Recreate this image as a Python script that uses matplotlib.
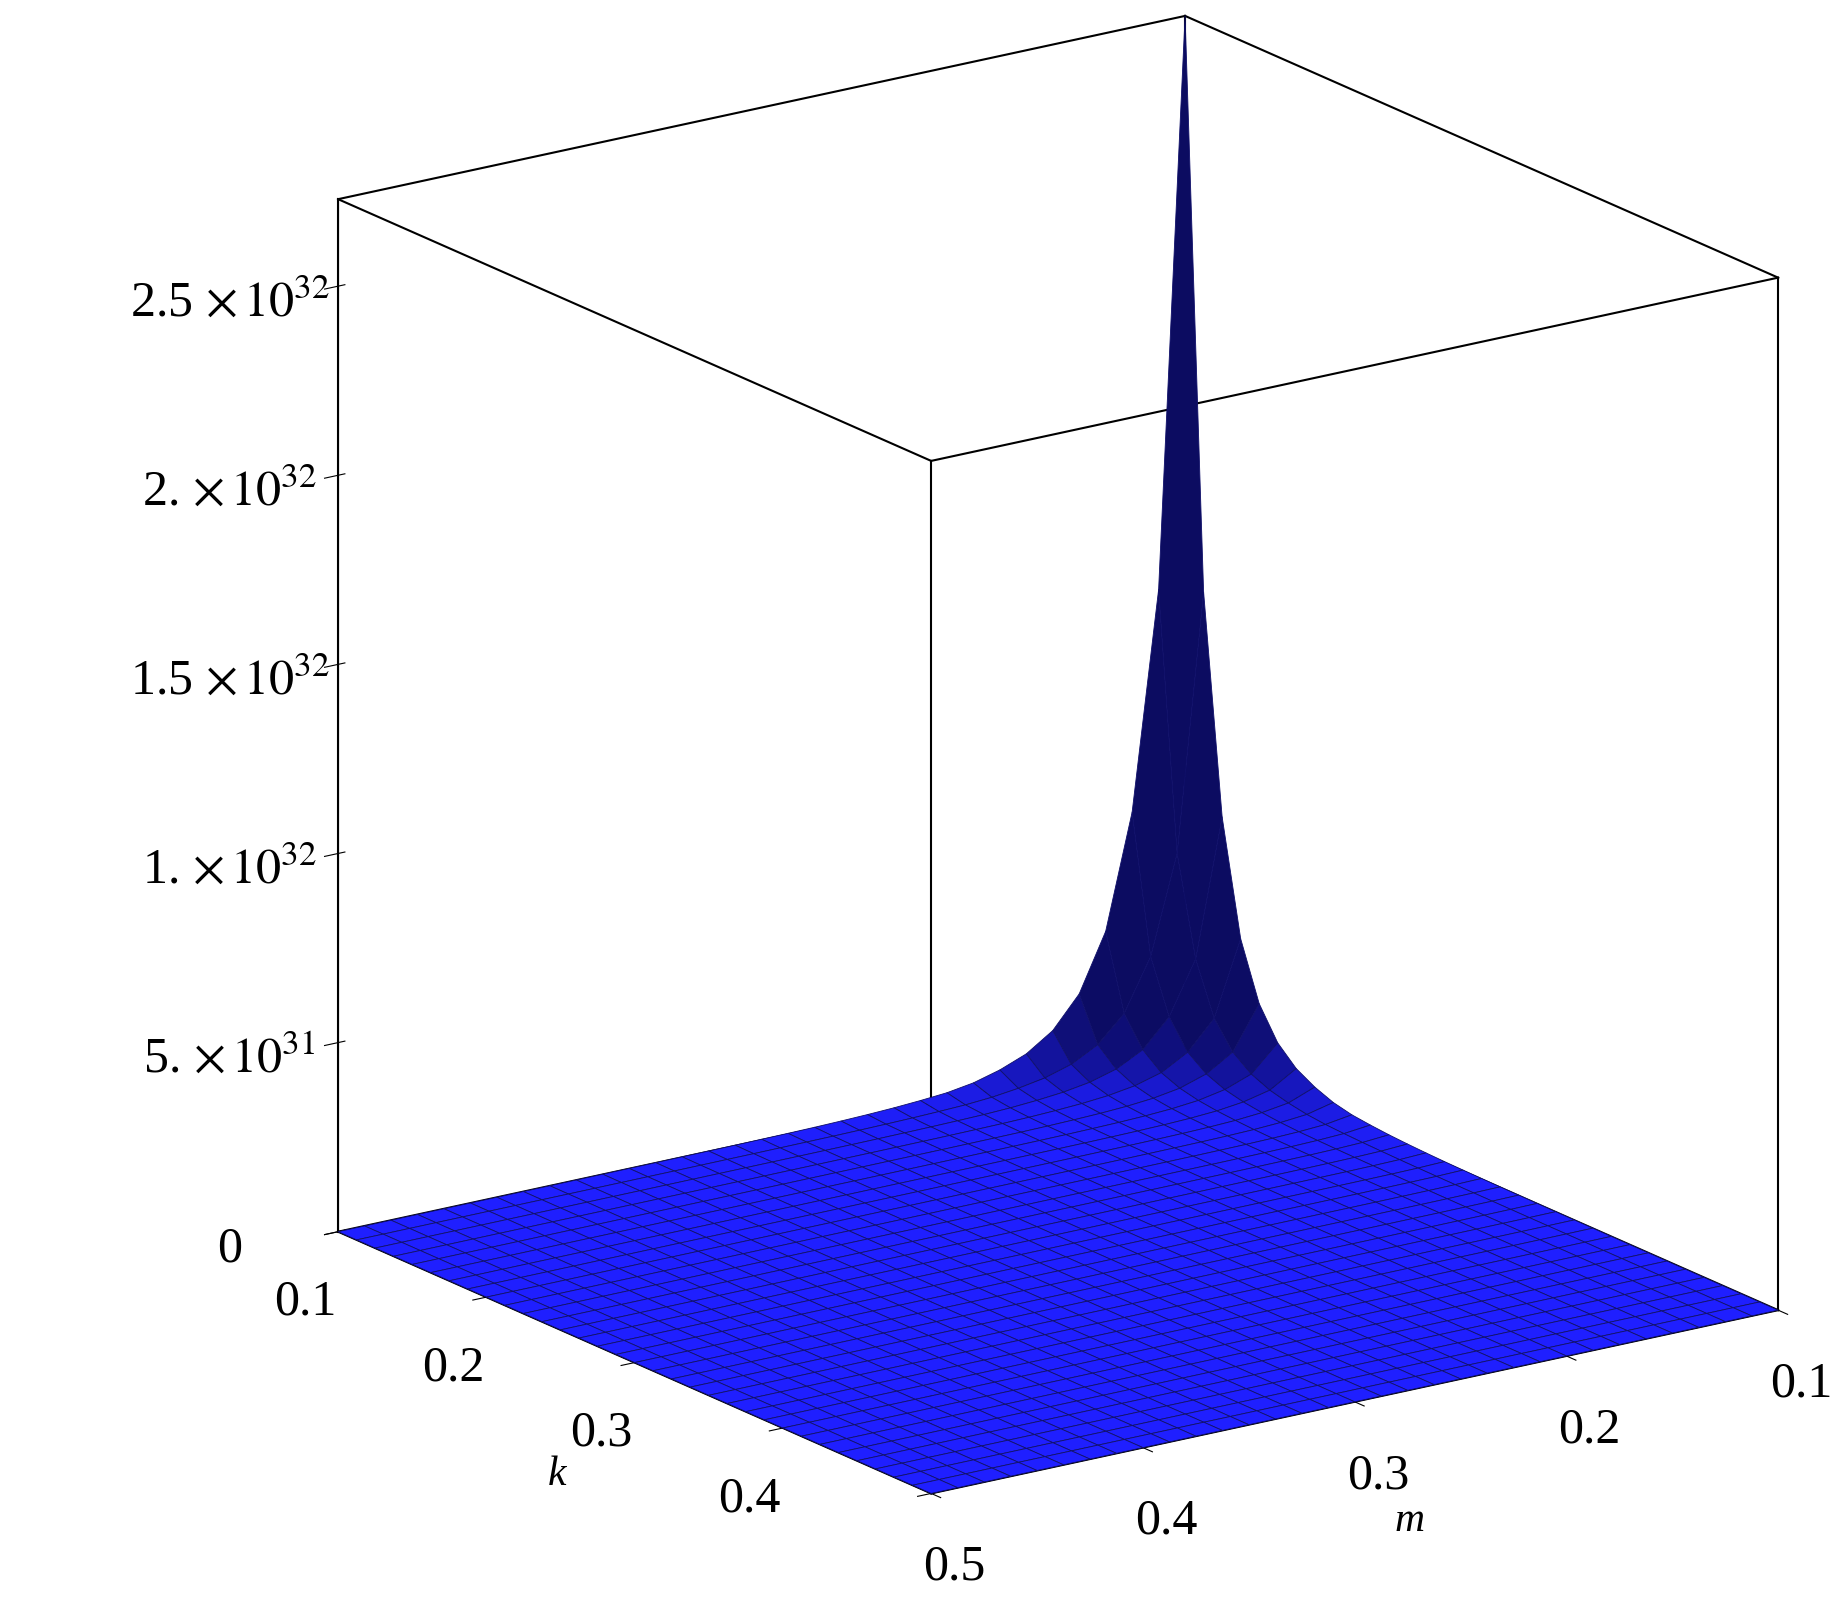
import numpy as np
import matplotlib.pyplot as plt
from matplotlib.colors import to_rgb

plt.rcParams['font.family'] = ['Liberation Serif', 'DejaVu Serif']
plt.rcParams['mathtext.fontset'] = 'stix'

# grid values along each axis (0.1 .. 0.5, 32 cells)
k_vals = np.linspace(0.1, 0.5, 33)
m_vals = np.linspace(0.1, 0.5, 33)
# relative falloff of the surface away from the (0.1, 0.1) corner
falloff = [1.0, 0.45, 0.24, 0.13, 0.075, 0.045, 0.028, 0.018, 0.011, 0.007, 0.005,
           0.0035, 0.0025, 0.0018, 0.0013, 0.001, 0.0008, 0.0006, 0.0005, 0.0004, 0.0003,
           0.00025, 0.0002, 0.00015, 0.0001, 0.00008, 0.00006, 0.00005, 0.00004, 0.00003,
           0.00002, 0.00001, 0.00001]
z_peak = 2.73e32
z_ticks = [0, 5e31, 1e32, 1.5e32, 2e32, 2.5e32]
z_labels = ['0', r'5. $\times\,10^{31}$', r'1. $\times\,10^{32}$', r'1.5 $\times\,10^{32}$',
            r'2. $\times\,10^{32}$', r'2.5 $\times\,10^{32}$']
ticks = [0.1, 0.2, 0.3, 0.4, 0.5]

M, K = np.meshgrid(m_vals, k_vals)
f = np.array(falloff)
Z = z_peak * np.outer(f, f)   # rows: k, cols: m

# darker where the surface is steep, like the reference's lighting
gk, gm = np.gradient(Z / z_peak)
steep = np.sqrt(gk ** 2 + gm ** 2) * 32
bright = 1.0 - 0.62 * np.tanh(steep / 1.5)
base = np.array(to_rgb('#1f1fff'))
fc = np.clip(bright[..., None] * base, 0, 1)

fig = plt.figure(figsize=(18.37, 16.22), dpi=100)
ax = fig.add_axes([0.018, -0.025, 1.09, 1.09], projection='3d')
ax.plot_surface(M, K, Z, facecolors=fc, edgecolor='#10106a', linewidth=0.6,
                rstride=1, cstride=1, shade=False, antialiased=True)

ax.set_xlim(0.1, 0.5)
ax.set_ylim(0.1, 0.5)
ax.set_zlim(0, z_peak)
ax.view_init(elev=18, azim=55)
ax.set_proj_type('ortho')
ax.set_box_aspect((1, 1, 1.05))

for axis in (ax.xaxis, ax.yaxis, ax.zaxis):
    axis.pane.fill = False
    axis.pane.set_edgecolor('none')
    axis.line.set_color('black')
ax.grid(False)

# bounding box
xs, ys = (0.1, 0.5), (0.1, 0.5)
for x in xs:
    for y in ys:
        ax.plot([x, x], [y, y], [0, z_peak], color='black', lw=1.5)
for z in (0, z_peak):
    for x in xs:
        ax.plot([x, x], [0.1, 0.5], [z, z], color='black', lw=1.5)
    for y in ys:
        ax.plot([0.1, 0.5], [y, y], [z, z], color='black', lw=1.5)

ax.set_xticks(ticks)
ax.set_xticklabels(['0.1', '0.2', '0.3', '0.4', '0.5'])
ax.set_yticks(ticks)
ax.set_yticklabels(['0.1', '0.2', '0.3', '0.4', ''])
ax.set_zticks(z_ticks)
ax.set_zticklabels(z_labels)
ax.tick_params(labelsize=36, pad=18)
ax.tick_params(axis='z', pad=42)
ax.set_xlabel('m', fontsize=30, style='italic', labelpad=40)
ax.set_ylabel('k', fontsize=30, style='italic', labelpad=40)

fig.savefig('out.png', dpi=100)
